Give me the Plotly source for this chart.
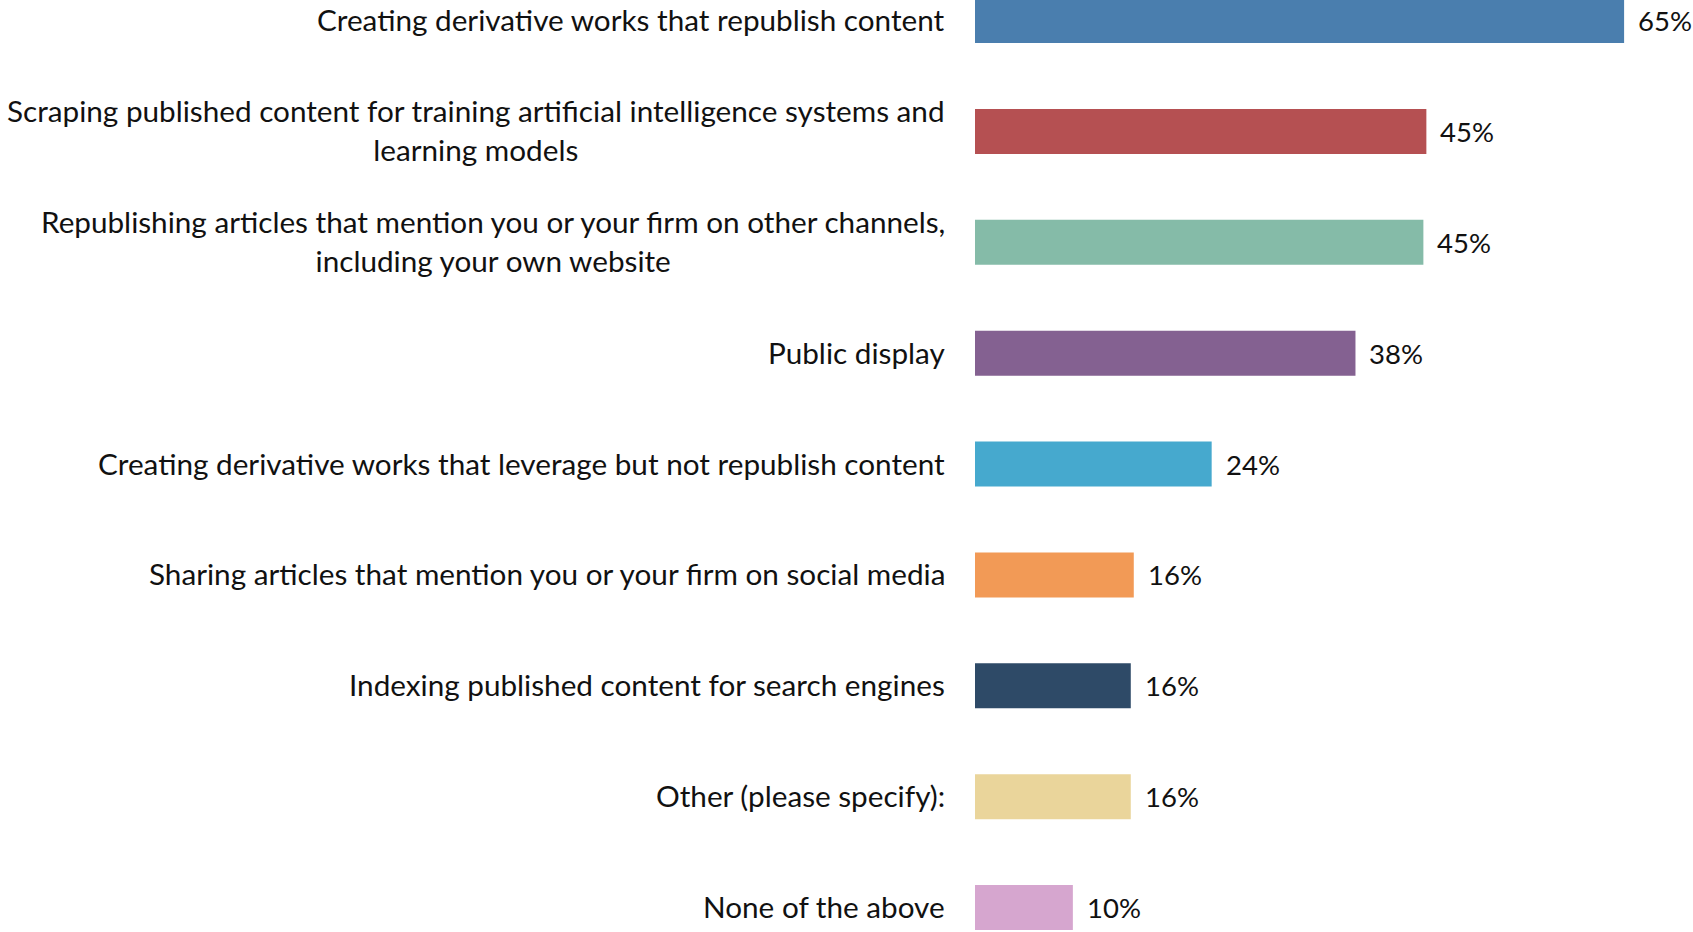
import plotly.graph_objects as go

# Survey responses: share of respondents selecting each permitted use
categories = [
    "Creating derivative works that republish content",
    "Scraping published content for training artificial intelligence systems and<br>learning models",
    "Republishing articles that mention you or your firm on other channels,<br>including your own website",
    "Public display",
    "Creating derivative works that leverage but not republish content",
    "Sharing articles that mention you or your firm on social media",
    "Indexing published content for search engines",
    "Other (please specify):",
    "None of the above",
]
values = [65.0, 45.2, 44.9, 38.1, 23.7, 15.9, 15.6, 15.6, 9.8]
colors = [
    "#4A7EAE", "#B55052", "#85BBA8", "#846191", "#46A9CE",
    "#F29A56", "#2E4A67", "#EAD59B", "#D6A6CF",
]

FONT = "Lato"
TEXT_COLOR = "#111111"
CAT_SIZE = 29.7
VALUE_SIZE = 27.5

fig = go.Figure(
    go.Bar(
        x=values,
        y=categories,
        orientation="h",
        marker=dict(color=colors, line=dict(width=0)),
        hoverinfo="skip",
    )
)

annotations = []
for cat, val in zip(categories, values):
    # category label, right-aligned to the left of the bars
    annotations.append(dict(
        x=0, y=cat, xref="x", yref="y", text=cat,
        xanchor="right", yanchor="middle", align="center",
        xshift=-28, yshift=1, showarrow=False,
        font=dict(family=FONT, size=CAT_SIZE, color=TEXT_COLOR),
    ))
    # value label just past the bar end
    annotations.append(dict(
        x=val, y=cat, xref="x", yref="y", text=f"{val:.0f}%",
        xanchor="left", yanchor="middle", xshift=12, showarrow=False,
        font=dict(family=FONT, size=VALUE_SIZE, color=TEXT_COLOR),
    ))

fig.update_layout(
    width=1693, height=932,
    margin=dict(l=975, r=0, t=0, b=0),
    paper_bgcolor="white", plot_bgcolor="white",
    bargap=0.594,
    showlegend=False,
    annotations=annotations,
    xaxis=dict(range=[0, 71.9], showgrid=False, zeroline=False,
               showticklabels=False, showline=False, fixedrange=True),
    yaxis=dict(type="category", categoryorder="array", categoryarray=categories,
               range=[8.221, -0.186], showgrid=False, zeroline=False,
               showticklabels=False, showline=False, fixedrange=True),
)

fig.write_html("out.html", config={"displayModeBar": False})
